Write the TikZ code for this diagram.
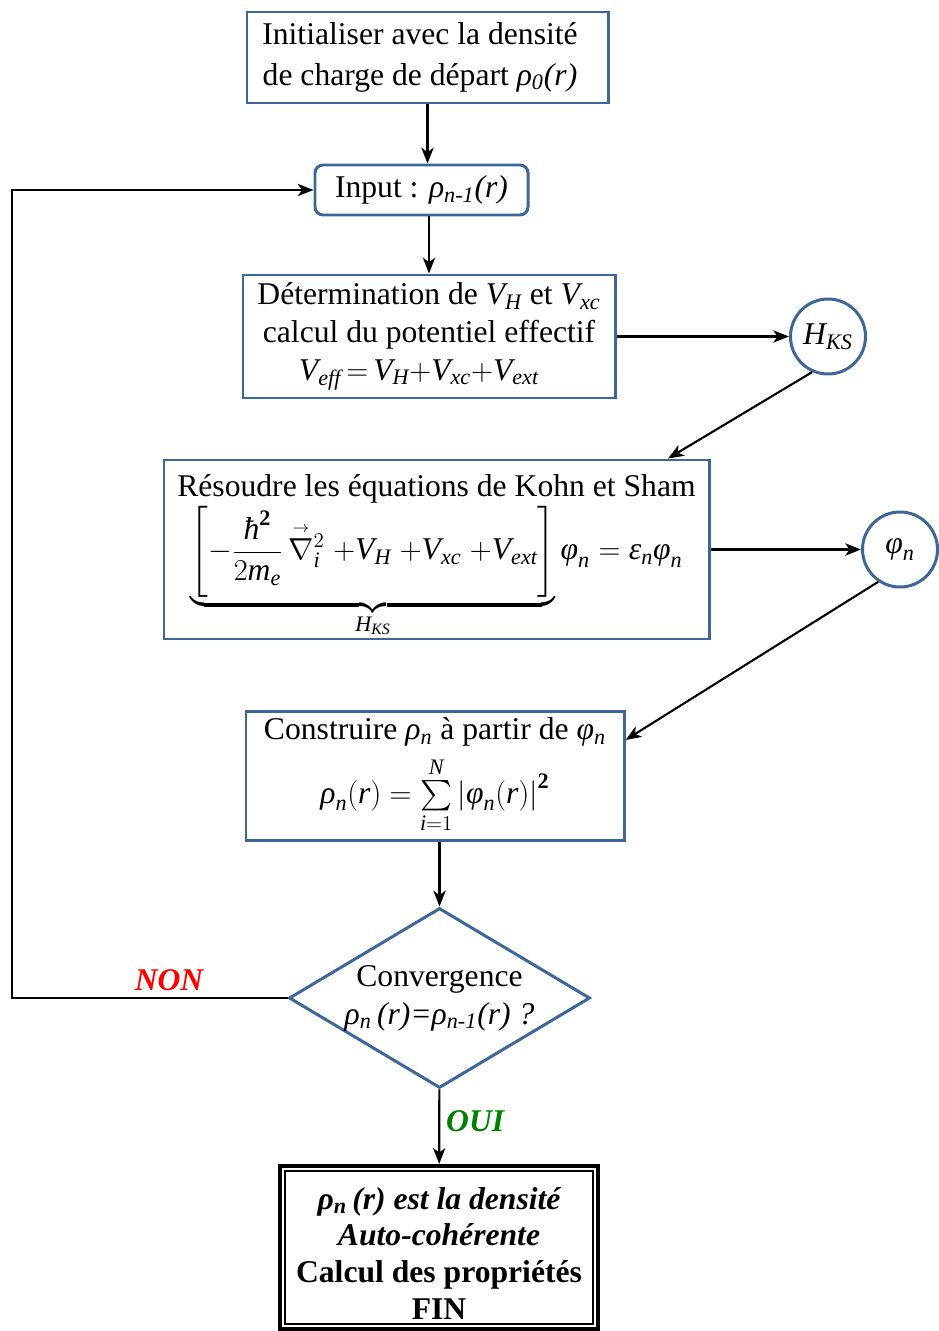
\documentclass[tikz,border=0pt]{standalone}
\usepackage{amsmath}
\usepackage{fontspec}
\setmainfont{Liberation Serif}
\DeclareSymbolFont{letters}{TU}{\rmdefault}{m}{it}
\usepackage{tikz}
\usetikzlibrary{arrows,arrows.meta,shapes,positioning}
\definecolor{ksblue}{RGB}{62,102,152}
\definecolor{nonred}{RGB}{255,0,0}
\definecolor{ouigreen}{RGB}{0,128,0}
\newcommand{\vrho}{\textit{ρ}}
\newcommand{\vphi}{\textit{φ}}
\newcommand{\veps}{\textit{ε}}
\newcommand{\vnabla}{\overset{\scriptscriptstyle\rightarrow}{\nabla}}
\tikzstyle{process} = [rectangle, draw=ksblue, line width=1.7pt, align=center, inner sep=2pt, font=\fontsize{18}{21.5}\selectfont]
\tikzstyle{decision} = [diamond, aspect=1.67, draw=ksblue, line width=1.7pt, align=center, inner sep=0pt, minimum width=6.02cm, minimum height=3.6cm, font=\fontsize{18}{21.5}\selectfont]
\tikzstyle{bubble} = [circle, draw=ksblue, line width=1.7pt, minimum size=1.5cm, inner sep=0pt, font=\fontsize{18}{21.5}\selectfont]
\tikzstyle{final} = [rectangle, draw=black, line width=2.4pt, align=center, font=\fontsize{18}{20.8}\selectfont\bfseries]
\tikzstyle{arrow} = [line width=1.2pt,->,>={Stealth[length=9pt,width=7pt,inset=2.5pt]}]
\tikzstyle{answer} = [font=\fontsize{18}{21}\selectfont\bfseries\itshape]

\begin{document}
\begin{tikzpicture}
\useasboundingbox (0,0) rectangle (18.76,-26.62);
% Cycle auto-coherent
\node (init) [process, minimum width=7.22cm, minimum height=1.82cm, font=\fontsize{18}{23}\selectfont] at (8.55,-1.15) {Initialiser avec la densité\hspace*{0.3cm}\\de charge de départ \textit{ρ\textsubscript{0}(r)}\hspace*{0.3cm}};
\node (input) [process, rounded corners=0.16cm, minimum width=4.26cm, minimum height=1cm, below of=init, node distance=2.65cm, xshift=-0.12cm] {Input : \textit{ρ\textsubscript{n-1}(r)}};
\node (det) [process, minimum width=7.44cm, minimum height=2.46cm, below of=input, node distance=2.93cm, xshift=0.15cm] {Détermination de $V_H$ et $V_{xc}$\\ calcul du potentiel effectif\\ $V_{eff}\,{=}\,V_H{+}V_{xc}{+}V_{ext}$\hspace*{0.4cm}};
\node (hks) [bubble, right of=det, node distance=7.98cm] {$H_{KS}$};
\node (res) [process, inner sep=0pt, minimum width=10.9cm, minimum height=3.58cm, below of=det, node distance=4.26cm, xshift=0.15cm] {\rule{0pt}{20pt}Résoudre les équations de Kohn et Sham\\[1pt]
  $\displaystyle\underbrace{\left[-\frac{\textit{ħ}^{\mathbf{2}}}{2m_e}\,\vnabla{}_i^2\;{+}V_H\;{+}V_{xc}\;{+}V_{ext}\right]}_{H_{KS}}\vphi_n\;{=}\;\veps_n\vphi_n$};
\node (phi) [bubble, right of=res, node distance=9.27cm] {$\vphi_n$};
\node (cons) [process, inner sep=0pt, minimum width=7.56cm, minimum height=2.58cm, below of=res, node distance=4.52cm, xshift=-0.03cm] {Construire \textit{ρ\textsubscript{n}} à partir de \textit{φ\textsubscript{n}}\\[5pt]
  $\vrho_n(r)=\sum\limits_{i=1}^{N}\left|\vphi_n(r)\right|^{\mathbf{2}}$};
\node (conv) [decision, below of=cons, node distance=4.45cm, xshift=0.09cm] {Convergence\\ \textit{ρ\textsubscript{n}\,(r)=ρ\textsubscript{n-1}(r) ?}};
\node (fin) [final, minimum width=6.36cm, minimum height=3.26cm, below of=conv, node distance=4.99cm, xshift=-0.01cm] {\rule{0pt}{19pt}\itshape ρ\textsubscript{n}\,(r) est la densité\\ \itshape Auto-cohérente\\ Calcul des propriétés\\ FIN};
\draw[line width=0.8pt] ([shift={(0.14,-0.14)}]fin.north west) rectangle ([shift={(-0.14,0.14)}]fin.south east);
\coordinate (loopx) at (0.24,0);

\draw[arrow] (init.south) -- (init.south |- input.north);
\draw[arrow] (det.north |- input.south) -- (det.north);
\draw[arrow] (det) -- (hks);
\draw[arrow] (hks.246) -- ([xshift=4.63cm]res.north);
\draw[arrow] (res) -- (phi);
\draw[arrow] (phi.236) -- ([yshift=0.71cm]cons.east);
\draw[arrow] (cons.south -| conv.north) -- (conv.north);
\draw[arrow] (conv.west) -- node[answer, above, pos=0.43, text=nonred] {NON} (conv.west -| loopx) |- (input.west);
\draw[arrow] (conv) -- node[answer, right, pos=0.42, text=ouigreen] {OUI} (fin);
\end{tikzpicture}
\end{document}
